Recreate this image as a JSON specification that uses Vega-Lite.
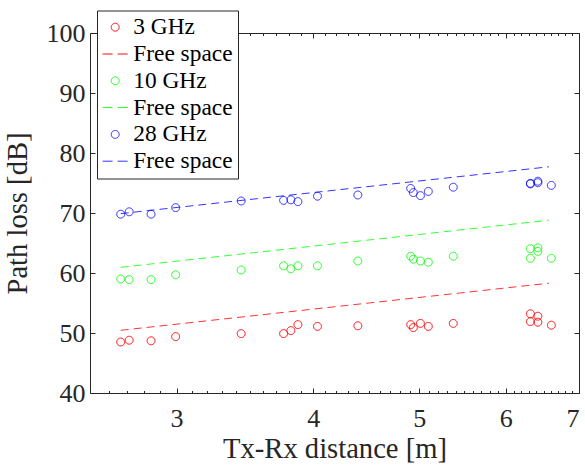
{
  "$schema": "https://vega.github.io/schema/vega-lite/v6.json",
  "width": 489,
  "height": 360,
  "autosize": {"type": "none"},
  "padding": {"left": 90, "top": 33, "right": 6, "bottom": 74},
  "background": "white",
  "datasets": {
    "pts": [
      {"d": 2.667, "pl": 48.5, "series": "3 GHz"},
      {"d": 2.715, "pl": 48.8, "series": "3 GHz"},
      {"d": 2.843, "pl": 48.7, "series": "3 GHz"},
      {"d": 2.994, "pl": 49.4, "series": "3 GHz"},
      {"d": 3.437, "pl": 49.9, "series": "3 GHz"},
      {"d": 3.758, "pl": 49.9, "series": "3 GHz"},
      {"d": 3.816, "pl": 50.4, "series": "3 GHz"},
      {"d": 3.873, "pl": 51.4, "series": "3 GHz"},
      {"d": 4.036, "pl": 51.1, "series": "3 GHz"},
      {"d": 4.394, "pl": 51.2, "series": "3 GHz"},
      {"d": 4.911, "pl": 51.4, "series": "3 GHz"},
      {"d": 4.939, "pl": 50.9, "series": "3 GHz"},
      {"d": 5.013, "pl": 51.6, "series": "3 GHz"},
      {"d": 5.097, "pl": 51.1, "series": "3 GHz"},
      {"d": 5.372, "pl": 51.6, "series": "3 GHz"},
      {"d": 6.319, "pl": 53.2, "series": "3 GHz"},
      {"d": 6.319, "pl": 51.9, "series": "3 GHz"},
      {"d": 6.419, "pl": 52.8, "series": "3 GHz"},
      {"d": 6.419, "pl": 51.8, "series": "3 GHz"},
      {"d": 6.604, "pl": 51.3, "series": "3 GHz"},
      {"d": 2.667, "pl": 59.0, "series": "10 GHz"},
      {"d": 2.715, "pl": 58.9, "series": "10 GHz"},
      {"d": 2.843, "pl": 58.9, "series": "10 GHz"},
      {"d": 2.994, "pl": 59.7, "series": "10 GHz"},
      {"d": 3.437, "pl": 60.5, "series": "10 GHz"},
      {"d": 3.758, "pl": 61.2, "series": "10 GHz"},
      {"d": 3.816, "pl": 60.7, "series": "10 GHz"},
      {"d": 3.873, "pl": 61.2, "series": "10 GHz"},
      {"d": 4.036, "pl": 61.2, "series": "10 GHz"},
      {"d": 4.394, "pl": 62.0, "series": "10 GHz"},
      {"d": 4.911, "pl": 62.8, "series": "10 GHz"},
      {"d": 4.939, "pl": 62.3, "series": "10 GHz"},
      {"d": 5.013, "pl": 62.0, "series": "10 GHz"},
      {"d": 5.097, "pl": 61.8, "series": "10 GHz"},
      {"d": 5.372, "pl": 62.8, "series": "10 GHz"},
      {"d": 6.319, "pl": 64.05, "series": "10 GHz"},
      {"d": 6.319, "pl": 62.45, "series": "10 GHz"},
      {"d": 6.419, "pl": 64.2, "series": "10 GHz"},
      {"d": 6.419, "pl": 63.6, "series": "10 GHz"},
      {"d": 6.604, "pl": 62.45, "series": "10 GHz"},
      {"d": 2.667, "pl": 69.8, "series": "28 GHz"},
      {"d": 2.715, "pl": 70.2, "series": "28 GHz"},
      {"d": 2.843, "pl": 69.8, "series": "28 GHz"},
      {"d": 2.994, "pl": 70.9, "series": "28 GHz"},
      {"d": 3.437, "pl": 72.0, "series": "28 GHz"},
      {"d": 3.758, "pl": 72.1, "series": "28 GHz"},
      {"d": 3.816, "pl": 72.2, "series": "28 GHz"},
      {"d": 3.873, "pl": 71.9, "series": "28 GHz"},
      {"d": 4.036, "pl": 72.8, "series": "28 GHz"},
      {"d": 4.394, "pl": 73.0, "series": "28 GHz"},
      {"d": 4.911, "pl": 74.1, "series": "28 GHz"},
      {"d": 4.939, "pl": 73.4, "series": "28 GHz"},
      {"d": 5.013, "pl": 72.9, "series": "28 GHz"},
      {"d": 5.097, "pl": 73.6, "series": "28 GHz"},
      {"d": 5.372, "pl": 74.3, "series": "28 GHz"},
      {"d": 6.319, "pl": 74.95, "series": "28 GHz"},
      {"d": 6.319, "pl": 74.85, "series": "28 GHz"},
      {"d": 6.419, "pl": 75.05, "series": "28 GHz"},
      {"d": 6.419, "pl": 75.3, "series": "28 GHz"},
      {"d": 6.604, "pl": 74.6, "series": "28 GHz"}
    ],
    "fs": [
      {"d": 2.667, "pl": 50.45, "series": "Free space 3"},
      {"d": 6.57, "pl": 58.3, "series": "Free space 3"},
      {"d": 2.667, "pl": 60.95, "series": "Free space 10"},
      {"d": 6.57, "pl": 68.8, "series": "Free space 10"},
      {"d": 2.667, "pl": 69.9, "series": "Free space 28"},
      {"d": 6.57, "pl": 77.7, "series": "Free space 28"}
    ]
  },
  "config": {
    "view": {"stroke": "#262626", "strokeWidth": 1},
    "axis": {
      "labelFont": "Liberation Serif",
      "titleFont": "Liberation Serif",
      "labelFontSize": 26,
      "titleFontSize": 28.6,
      "titleFontWeight": "normal",
      "labelColor": "#262626",
      "titleColor": "#262626",
      "tickColor": "#262626",
      "tickWidth": 1,
      "grid": false,
      "domain": false
    },
    "legend": {
      "labelFont": "Liberation Serif", "labelFontSize": 23.4, "labelColor": "#000000",
      "strokeColor": "#262626", "fillColor": "white", "padding": 5, "rowPadding": 1.8,
      "symbolStrokeWidth": 1, "symbolSize": 62, "symbolOffset": 1.5, "labelOffset": 6.3
    }
  },
  "resolve": {
    "axis": {"x": "independent", "y": "independent"},
    "legend": {"color": "independent", "shape": "independent", "strokeDash": "independent", "strokeWidth": "independent"}
  },
  "layer": [
    {
      "data": {"name": "fs"},
      "mark": {"type": "line", "strokeDash": [8, 5], "strokeWidth": 0.8},
      "encoding": {
        "x": {
          "field": "d", "type": "quantitative",
          "scale": {"type": "log", "domain": [2.5, 7], "nice": false},
          "axis": {"orient": "bottom", "values": [3, 4, 5, 6, 7], "format": "d", "tickSize": -5, "labelPadding": 17, "title": "Tx-Rx distance [m]", "titlePadding": 3}
        },
        "y": {
          "field": "pl", "type": "quantitative",
          "scale": {"domain": [40, 100], "nice": false, "zero": false},
          "axis": {"orient": "left", "values": [40, 50, 60, 70, 80, 90, 100], "tickSize": -5, "labelPadding": 10, "title": "Path loss [dB]", "titlePadding": 14}
        },
        "color": {
          "field": "series", "type": "nominal",
          "scale": {
            "domain": ["3 GHz", "Free space 3", "10 GHz", "Free space 10", "28 GHz", "Free space 28"],
            "range": ["#ff0000", "#ff0000", "#00ff00", "#00ff00", "#0000ff", "#0000ff"]
          },
          "legend": null
        }
      }
    },
    {
      "data": {"name": "pts"},
      "mark": {"type": "point", "filled": false, "size": 62, "opacity": 1},
      "encoding": {
        "x": {
          "field": "d", "type": "quantitative",
          "axis": {"orient": "top", "values": [3, 4, 5, 6, 7], "labels": false, "title": null, "tickSize": -5}
        },
        "y": {
          "field": "pl", "type": "quantitative",
          "axis": {"orient": "right", "values": [40, 50, 60, 70, 80, 90, 100], "labels": false, "title": null, "tickSize": -5}
        },
        "color": {
          "field": "series", "type": "nominal",
          "legend": {"title": null, "orient": "none", "legendX": 7, "legendY": -22.5, "labelExpr": "indexof(datum.label, 'Free') >= 0 ? 'Free space' : datum.label"}
        },
        "shape": {
          "field": "series", "type": "nominal",
          "scale": {
            "domain": ["3 GHz", "Free space 3", "10 GHz", "Free space 10", "28 GHz", "Free space 28"],
            "range": ["circle", "M-3.2,0H3.2", "circle", "M-3.2,0H3.2", "circle", "M-3.2,0H3.2"]
          },
          "legend": {"title": null, "orient": "none", "legendX": 7, "legendY": -22.5, "labelExpr": "indexof(datum.label, 'Free') >= 0 ? 'Free space' : datum.label"}
        },
        "strokeDash": {
          "field": "series", "type": "nominal",
          "scale": {
            "domain": ["3 GHz", "Free space 3", "10 GHz", "Free space 10", "28 GHz", "Free space 28"],
            "range": [[1, 0], [10, 5], [1, 0], [10, 5], [1, 0], [10, 5]]
          },
          "legend": {"title": null, "orient": "none", "legendX": 7, "legendY": -22.5, "labelExpr": "indexof(datum.label, 'Free') >= 0 ? 'Free space' : datum.label"}
        },
        "strokeWidth": {
          "field": "series", "type": "nominal",
          "scale": {
            "domain": ["3 GHz", "Free space 3", "10 GHz", "Free space 10", "28 GHz", "Free space 28"],
            "range": [1, 0.8, 1, 0.8, 1, 0.8]
          },
          "legend": {"title": null, "orient": "none", "legendX": 7, "legendY": -22.5, "labelExpr": "indexof(datum.label, 'Free') >= 0 ? 'Free space' : datum.label"}
        }
      }
    },
    {
      "data": {"name": "fs"},
      "mark": {"type": "point", "opacity": 0},
      "encoding": {
        "x": {
          "field": "d", "type": "quantitative",
          "axis": {"orient": "bottom", "values": [2.6, 2.7, 2.8, 2.9, 3.1, 3.2, 3.3, 3.4, 3.5, 3.6, 3.7, 3.8, 3.9, 4.1, 4.2, 4.3, 4.4, 4.5, 4.6, 4.7, 4.8, 4.9, 5.1, 5.2, 5.3, 5.4, 5.5, 5.6, 5.7, 5.8, 5.9, 6.1, 6.2, 6.3, 6.4, 6.5, 6.6, 6.7, 6.8, 6.9], "labels": false, "title": null, "tickSize": -2.5}
        }
      }
    },
    {
      "data": {"name": "fs"},
      "mark": {"type": "point", "opacity": 0},
      "encoding": {
        "x": {
          "field": "d", "type": "quantitative",
          "axis": {"orient": "top", "values": [2.6, 2.7, 2.8, 2.9, 3.1, 3.2, 3.3, 3.4, 3.5, 3.6, 3.7, 3.8, 3.9, 4.1, 4.2, 4.3, 4.4, 4.5, 4.6, 4.7, 4.8, 4.9, 5.1, 5.2, 5.3, 5.4, 5.5, 5.6, 5.7, 5.8, 5.9, 6.1, 6.2, 6.3, 6.4, 6.5, 6.6, 6.7, 6.8, 6.9], "labels": false, "title": null, "tickSize": -2.5}
        }
      }
    }
  ]
}
